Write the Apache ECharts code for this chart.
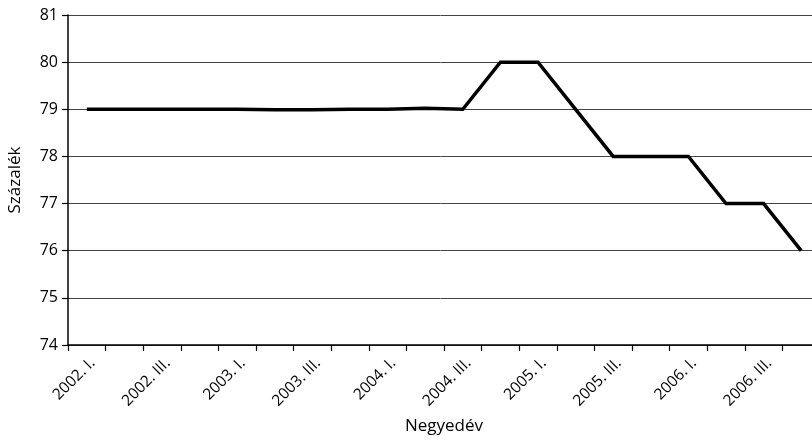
<!DOCTYPE html>
<html>
<head>
<meta charset="utf-8">
<script src="https://cdn.jsdelivr.net/npm/echarts@6/dist/echarts.min.js"></script>
<style>html,body{margin:0;padding:0;background:#fff}#c{width:812px;height:440px}</style>
</head>
<body>
<div id="c"></div>
<script>
const categories = ['2002. I.','2002. II.','2002. III.','2002. IV.','2003. I.','2003. II.','2003. III.','2003. IV.','2004. I.','2004. II.','2004. III.','2004. IV.','2005. I.','2005. II.','2005. III.','2005. IV.','2006. I.','2006. II.','2006. III.','2006. IV.'];
const values = [79.0,79.0,79.0,79.0,79.0,78.99,78.99,79.0,79.0,79.02,79.0,80.0,80.0,79.0,78.0,78.0,78.0,77.0,77.0,76.0];
const yTicks = [74,75,76,77,78,79,80,81];
const xTitle = 'Negyedév';
const yTitle = 'Százalék';

const chart = echarts.init(document.getElementById('c'), null, {renderer:'canvas'});
const font = '"Open Sans", "Noto Sans", sans-serif';
chart.setOption({
  animation: false,
  grid: {left: 68, top: 15, bottom: 95, width: 752, containLabel: false, outerBoundsMode: 'none'},
  xAxis: {
    type: 'category',
    data: categories,
    boundaryGap: true,
    name: xTitle,
    nameLocation: 'middle',
    nameGap: 73,
    nameTextStyle: {fontFamily: font, fontSize: 17, color: '#000'},
    axisLine: {lineStyle: {color: '#000', width: 1.5}},
    axisTick: {show: true, interval: 0, length: 6, lineStyle: {color: '#000', width: 1.2}},
    axisLabel: {interval: 1, rotate: 45, fontFamily: font, fontSize: 15.5, color: '#000', margin: 10, verticalAlign: 'top', hideOverlap: false},
    splitLine: {show: false}
  },
  yAxis: {
    type: 'value',
    min: yTicks[0],
    max: yTicks[yTicks.length - 1],
    interval: 1,
    name: yTitle,
    nameLocation: 'middle',
    nameGap: 44,
    nameTextStyle: {fontFamily: font, fontSize: 17, color: '#000'},
    axisLine: {show: true, lineStyle: {color: '#000', width: 1.5}},
    axisTick: {show: true, length: 6, lineStyle: {color: '#000', width: 1.2}},
    axisLabel: {fontFamily: font, fontSize: 16, color: '#000', margin: 10},
    splitLine: {show: true, lineStyle: {color: '#444', width: 1}}
  },
  series: [{
    type: 'line',
    data: values,
    showSymbol: false,
    symbol: 'none',
    lineStyle: {color: '#000', width: 3.5, join: 'miter'},
    itemStyle: {color: '#000'}
  }]
});
</script>
</body>
</html>
